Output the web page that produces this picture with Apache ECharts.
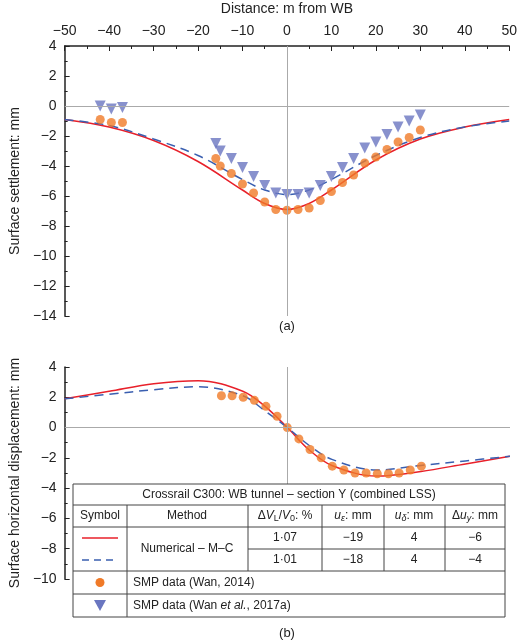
<!DOCTYPE html><html><head><meta charset="utf-8"><script src="https://cdn.jsdelivr.net/npm/echarts@6/dist/echarts.min.js"></script>
<style>body{margin:0}#c{width:520px;height:644px}</style></head><body><div id="c"></div><script>
const xTicks=[-50,-40,-30,-20,-10,0,10,20,30,40,50];
const sxA=[-42,-39.5,-37,-16,-15,-12.5,-10,-7.5,-5,-2.5,0,2.5,5,7.5,10,12.5,15,17.5,20,22.5,25,27.5,30];
const smpWan2014A=[-0.9,-1.1,-1.1,-3.5,-4.0,-4.5,-5.2,-5.8,-6.4,-6.9,-6.95,-6.9,-6.8,-6.3,-5.7,-5.1,-4.6,-3.8,-3.4,-2.9,-2.4,-2.1,-1.6];
const smpWan2017A=[0,-0.2,-0.1,-2.5,-3.0,-3.5,-4.1,-4.7,-5.3,-5.8,-5.9,-5.9,-5.8,-5.3,-4.7,-4.1,-3.5,-2.8,-2.4,-1.9,-1.4,-1.0,-0.6];
const cx=[-50,-40,-30,-20,-10,-5,0,5,10,20,30,40,50];
const numA107=[-0.9,-1.4,-2.3,-3.7,-5.6,-6.5,-6.9,-6.5,-5.6,-3.6,-2.2,-1.4,-0.9];
const numA101=[-0.9,-1.3,-2.2,-3.3,-4.9,-5.6,-5.9,-5.6,-4.9,-3.3,-2.1,-1.4,-1.0];
const numB107=[1.9,2.4,2.9,3.1,2.4,1.4,0,-1.5,-2.5,-3.2,-2.9,-2.4,-1.9];
const numB101=[1.9,2.2,2.5,2.7,2.1,1.1,0,-1.2,-2.1,-2.8,-2.5,-2.2,-1.9];
const sxB=[-14.8,-12.4,-9.9,-7.4,-4.8,-2.3,0,2.6,5.1,7.6,10.1,12.7,15.2,17.7,20.2,22.7,25.1,27.6,30.1];
const smpB=[2.1,2.1,2.0,1.8,1.4,0.75,0,-0.75,-1.45,-2.0,-2.55,-2.8,-3.0,-3.0,-3.05,-3.05,-3.0,-2.8,-2.55];
const pair=(xs,ys)=>xs.map((x,i)=>[x,ys[i]]);
const F='Arial, Liberation Sans, sans-serif';
const RED='#e8202a',BLUE='#3a5fb0',OR='#f07a28',TRI='#6a76c0';
const zero={silent:true,symbol:'none',label:{show:false},lineStyle:{color:'#aaa',type:'solid',width:1},data:[{xAxis:0},{yAxis:0}]};
const fmt=v=>v<0?'\u2212'+(-v):''+v;
const yAx=(gi,min,max,name)=>({gridIndex:gi,min,max,interval:2,name,nameLocation:'middle',nameGap:38,nameTextStyle:{fontSize:14,fontFamily:F,color:'#222'},
 axisLine:{show:true,onZero:false,lineStyle:{color:'#222',width:1.5}},axisTick:{show:true,inside:true,length:5,lineStyle:{color:'#222'}},minorTick:{show:true,splitNumber:2,length:3,lineStyle:{color:'#222'}},
 axisLabel:{fontSize:14,fontFamily:F,color:'#222',formatter:fmt},splitLine:{show:false}});
const opt={animation:false,backgroundColor:'#fff',
grid:[{left:59,right:10,top:46,height:270},{left:59,right:10,top:367,height:212}],
xAxis:[{gridIndex:0,type:'value',position:'top',min:-50,max:50,interval:10,name:'Distance: m from WB',nameLocation:'middle',nameGap:30,
 nameTextStyle:{fontSize:14,fontFamily:F,color:'#222'},axisLine:{show:true,onZero:false,lineStyle:{color:'#222',width:1.5}},
 axisTick:{show:true,inside:true,length:5,lineStyle:{color:'#222'}},minorTick:{show:true,splitNumber:2,length:3,lineStyle:{color:'#222'}},
 axisLabel:{fontSize:14,fontFamily:F,color:'#222',formatter:fmt},splitLine:{show:false}},
 {gridIndex:1,type:'value',min:-50,max:50,show:false}],
yAxis:[yAx(0,-14,4,'Surface settlement: mm'),yAx(1,-10,4,'Surface horizontal displacement: mm')],
series:[
{type:'line',xAxisIndex:0,yAxisIndex:0,data:pair(cx,numA107),smooth:0.35,symbol:'none',lineStyle:{color:RED,width:1.5},markLine:zero,z:3},
{type:'line',xAxisIndex:0,yAxisIndex:0,data:pair(cx,numA101),smooth:0.35,symbol:'none',lineStyle:{color:BLUE,width:1.5,type:[9,6]},z:3},
{type:'scatter',xAxisIndex:0,yAxisIndex:0,data:pair(sxA,smpWan2014A),symbol:'circle',symbolSize:9,itemStyle:{color:OR},z:4},
{type:'scatter',xAxisIndex:0,yAxisIndex:0,data:pair(sxA,smpWan2017A),symbol:'triangle',symbolRotate:180,symbolSize:11,itemStyle:{color:TRI},z:4},
{type:'line',xAxisIndex:1,yAxisIndex:1,data:pair(cx,numB107),smooth:0.35,symbol:'none',lineStyle:{color:RED,width:1.5},markLine:zero,z:3},
{type:'line',xAxisIndex:1,yAxisIndex:1,data:pair(cx,numB101),smooth:0.35,symbol:'none',lineStyle:{color:BLUE,width:1.5,type:[9,6]},z:3},
{type:'scatter',xAxisIndex:1,yAxisIndex:1,data:pair(sxB,smpB),symbol:'circle',symbolSize:9,itemStyle:{color:OR},z:4}
],
graphic:[]};
const T=484;
const g=opt.graphic,ls={stroke:'#444',lineWidth:1};
g.push({type:'rect',shape:{x:73,y:T,width:432,height:617-T},style:{fill:'#fff',stroke:'#444',lineWidth:1},z:100});
const L=(x1,y1,x2,y2)=>g.push({type:'line',shape:{x1,y1,x2,y2},style:ls,z:101});
L(73,505,505,505);L(73,527,505,527);L(248,549,505,549);L(73,571,505,571);L(73,594,505,594);
[127,248,322,384,445].forEach(x=>L(x,505,x,571));L(127,571,127,617);
const TX=(x,y,t,align='center',extra={})=>g.push({type:'text',x,y,style:Object.assign({text:t,fontSize:12,fontFamily:F,fill:'#222',align,verticalAlign:'middle'},extra),z:102});
TX(289,494.5,'Crossrail C300: WB tunnel \u2013 section Y (combined LSS)');
TX(100,516,'Symbol');TX(187,516,'Method');
const sub=(x,t,rich)=>g.push({type:'text',x,y:516,style:{text:t,rich,fontSize:12,fontFamily:F,fill:'#222',align:'center',verticalAlign:'middle'},z:102});
const R={i:{fontStyle:'italic',fontSize:12,fontFamily:F},s:{fontStyle:'italic',fontSize:9,fontFamily:F,padding:[5,0,0,0]},n:{fontSize:9,fontFamily:F,padding:[5,0,0,0]}};
sub(285,'\u0394{i|V}{n|L}/{i|V}{n|0}: %',R);
sub(353,'{i|u}{s|\u03b5}: mm',R);sub(414,'{i|u}{s|\u03b4}: mm',R);sub(475,'\u0394{i|u}{s|y}: mm',R);
TX(187,549,'Numerical \u2013 M\u2013C');
[['1\u00b707','\u221219','4','\u22126',538],['1\u00b701','\u221218','4','\u22124',560]].forEach(r=>{TX(285,r[4],r[0]);TX(353,r[4],r[1]);TX(414,r[4],r[2]);TX(475,r[4],r[3]);});
g.push({type:'line',shape:{x1:82,y1:538,x2:118,y2:538},style:{stroke:RED,lineWidth:1.5},z:102});
g.push({type:'line',shape:{x1:82,y1:560,x2:118,y2:560},style:{stroke:BLUE,lineWidth:1.5,lineDash:[7,5]},z:102});
g.push({type:'circle',shape:{cx:100,cy:582.5,r:4.5},style:{fill:OR},z:102});
g.push({type:'polygon',shape:{points:[[94,600],[106,600],[100,611]]},style:{fill:TRI},z:102});
TX(133,582.5,'SMP data (Wan, 2014)','left');
g.push({type:'text',x:133,y:605.5,style:{text:'SMP data (Wan {i|et al.}, 2017a)',rich:{i:{fontStyle:'italic',fontSize:12,fontFamily:F}},fontSize:12,fontFamily:F,fill:'#222',align:'left',verticalAlign:'middle'},z:102});
TX(287,326,'(a)','center',{fontSize:13});TX(287,633,'(b)','center',{fontSize:13});
echarts.init(document.getElementById('c')).setOption(opt);
</script></body></html>
